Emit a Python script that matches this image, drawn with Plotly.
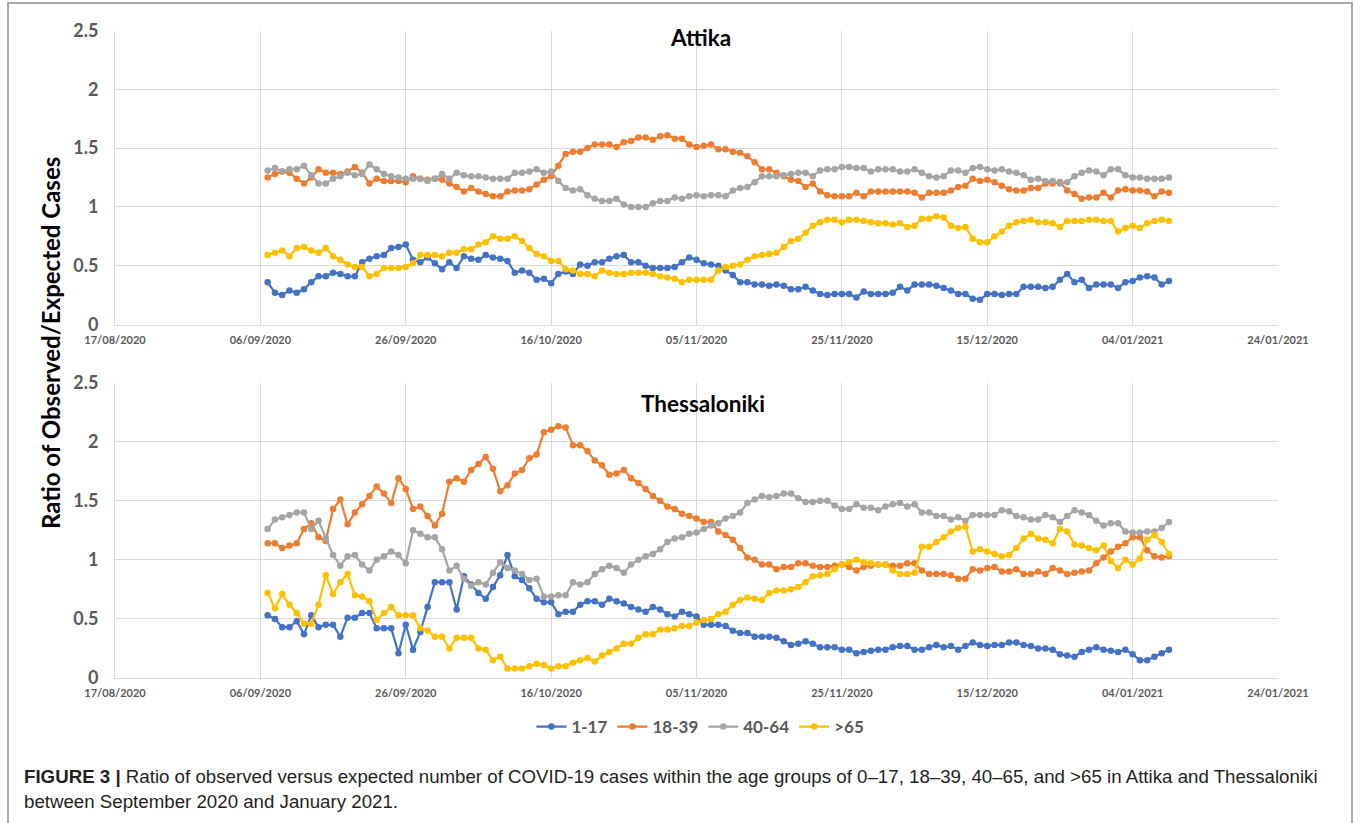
import pandas as pd
import plotly.graph_objects as go

# --- data: daily ratio observed/expected, 07/09/2020 .. 09/01/2021 ---
dates = pd.date_range("2020-09-07", "2021-01-09", freq="D")
age_groups = ["1-17", "18-39", "40-64", ">65"]

attika_1_17 = [
    0.36, 0.27, 0.25, 0.29, 0.27, 0.30, 0.36, 0.41, 0.41, 0.44, 0.43, 0.41, 0.41, 0.53, 0.56, 0.58,
    0.59, 0.65, 0.66, 0.68, 0.55, 0.53, 0.57, 0.52, 0.47, 0.53, 0.48, 0.58, 0.56, 0.55, 0.59,
    0.57, 0.56, 0.54, 0.44, 0.46, 0.44, 0.38, 0.39, 0.35, 0.43, 0.45, 0.43, 0.51, 0.50, 0.53, 0.53,
    0.56, 0.58, 0.59, 0.53, 0.53, 0.50, 0.48, 0.48, 0.48, 0.49, 0.53, 0.57, 0.55, 0.52, 0.51,
    0.50, 0.46, 0.42, 0.36, 0.36, 0.34, 0.34, 0.33, 0.34, 0.33, 0.30, 0.30, 0.32, 0.29, 0.26, 0.25,
    0.26, 0.26, 0.26, 0.23, 0.28, 0.26, 0.26, 0.26, 0.27, 0.32, 0.29, 0.34, 0.34, 0.34, 0.33,
    0.31, 0.29, 0.26, 0.26, 0.22, 0.21, 0.26, 0.26, 0.25, 0.26, 0.26, 0.32, 0.32, 0.32, 0.31, 0.32,
    0.38, 0.43, 0.36, 0.38, 0.31, 0.34, 0.34, 0.34, 0.31, 0.36, 0.37, 0.40, 0.41, 0.40, 0.34, 0.37,
]
attika_18_39 = [
    1.25, 1.28, 1.30, 1.29, 1.24, 1.20, 1.25, 1.32, 1.29, 1.29, 1.28, 1.30, 1.34, 1.29, 1.20, 1.24,
    1.22, 1.22, 1.22, 1.21, 1.26, 1.24, 1.23, 1.24, 1.23, 1.20, 1.17, 1.13, 1.16, 1.13, 1.11,
    1.09, 1.09, 1.13, 1.14, 1.14, 1.15, 1.19, 1.23, 1.26, 1.35, 1.45, 1.47, 1.47, 1.50, 1.53, 1.53,
    1.53, 1.51, 1.55, 1.56, 1.59, 1.59, 1.57, 1.60, 1.61, 1.58, 1.58, 1.53, 1.51, 1.52, 1.53,
    1.49, 1.49, 1.47, 1.46, 1.43, 1.38, 1.32, 1.32, 1.29, 1.26, 1.23, 1.22, 1.17, 1.20, 1.13, 1.10,
    1.09, 1.09, 1.09, 1.12, 1.09, 1.13, 1.13, 1.13, 1.13, 1.13, 1.13, 1.12, 1.08, 1.12, 1.12,
    1.12, 1.14, 1.17, 1.18, 1.24, 1.22, 1.23, 1.21, 1.18, 1.15, 1.14, 1.14, 1.16, 1.16, 1.20, 1.20,
    1.21, 1.14, 1.11, 1.07, 1.08, 1.08, 1.12, 1.08, 1.14, 1.15, 1.14, 1.14, 1.13, 1.09, 1.13, 1.12,
]
attika_40_64 = [
    1.31, 1.33, 1.30, 1.32, 1.32, 1.35, 1.27, 1.20, 1.20, 1.24, 1.26, 1.29, 1.27, 1.28, 1.36, 1.32,
    1.28, 1.26, 1.25, 1.24, 1.24, 1.24, 1.22, 1.24, 1.28, 1.24, 1.29, 1.27, 1.26, 1.26, 1.25,
    1.24, 1.24, 1.24, 1.29, 1.29, 1.30, 1.32, 1.29, 1.30, 1.22, 1.16, 1.14, 1.15, 1.10, 1.07, 1.05,
    1.05, 1.07, 1.02, 1.00, 1.00, 1.00, 1.03, 1.05, 1.05, 1.08, 1.07, 1.09, 1.10, 1.09, 1.10,
    1.10, 1.09, 1.14, 1.16, 1.17, 1.21, 1.26, 1.26, 1.26, 1.27, 1.28, 1.29, 1.29, 1.26, 1.31, 1.32,
    1.32, 1.34, 1.34, 1.33, 1.33, 1.30, 1.32, 1.32, 1.32, 1.30, 1.30, 1.32, 1.29, 1.26, 1.25,
    1.26, 1.31, 1.31, 1.29, 1.33, 1.34, 1.32, 1.31, 1.32, 1.30, 1.29, 1.27, 1.23, 1.24, 1.22, 1.22,
    1.20, 1.21, 1.26, 1.29, 1.31, 1.30, 1.27, 1.32, 1.32, 1.27, 1.25, 1.25, 1.24, 1.24, 1.24, 1.25,
]
attika_65 = [
    0.59, 0.61, 0.63, 0.58, 0.65, 0.66, 0.63, 0.61, 0.65, 0.58, 0.55, 0.51, 0.49, 0.49, 0.41, 0.43,
    0.48, 0.48, 0.48, 0.49, 0.52, 0.59, 0.59, 0.59, 0.58, 0.61, 0.61, 0.64, 0.64, 0.68, 0.70,
    0.75, 0.73, 0.73, 0.75, 0.71, 0.65, 0.60, 0.58, 0.54, 0.54, 0.47, 0.46, 0.43, 0.43, 0.41, 0.46,
    0.44, 0.43, 0.43, 0.44, 0.44, 0.44, 0.43, 0.41, 0.40, 0.39, 0.36, 0.38, 0.38, 0.38, 0.38,
    0.46, 0.49, 0.50, 0.51, 0.55, 0.58, 0.59, 0.60, 0.61, 0.66, 0.71, 0.73, 0.78, 0.84, 0.87, 0.89,
    0.89, 0.87, 0.89, 0.89, 0.88, 0.87, 0.86, 0.86, 0.85, 0.86, 0.83, 0.84, 0.90, 0.90, 0.92,
    0.91, 0.84, 0.82, 0.83, 0.73, 0.70, 0.70, 0.75, 0.79, 0.84, 0.87, 0.88, 0.89, 0.87, 0.87, 0.86,
    0.83, 0.88, 0.88, 0.88, 0.89, 0.89, 0.88, 0.88, 0.79, 0.82, 0.84, 0.82, 0.86, 0.88, 0.89, 0.88,
]

thess_1_17 = [
    0.53, 0.50, 0.43, 0.43, 0.48, 0.37, 0.53, 0.43, 0.45, 0.45, 0.35, 0.51, 0.51, 0.55, 0.55, 0.42,
    0.42, 0.42, 0.21, 0.45, 0.24, 0.39, 0.60, 0.81, 0.81, 0.81, 0.58, 0.86, 0.79, 0.72, 0.67,
    0.77, 0.87, 1.04, 0.86, 0.83, 0.76, 0.67, 0.64, 0.64, 0.54, 0.56, 0.56, 0.62, 0.65, 0.65, 0.62,
    0.67, 0.65, 0.63, 0.60, 0.58, 0.56, 0.60, 0.58, 0.54, 0.52, 0.56, 0.54, 0.52, 0.45, 0.45,
    0.45, 0.44, 0.40, 0.38, 0.38, 0.35, 0.35, 0.35, 0.34, 0.31, 0.28, 0.29, 0.31, 0.29, 0.26, 0.26,
    0.26, 0.24, 0.24, 0.21, 0.22, 0.23, 0.24, 0.24, 0.26, 0.27, 0.27, 0.24, 0.24, 0.26, 0.28,
    0.26, 0.27, 0.24, 0.27, 0.30, 0.28, 0.27, 0.28, 0.28, 0.30, 0.30, 0.28, 0.27, 0.25, 0.25, 0.24,
    0.20, 0.19, 0.18, 0.22, 0.24, 0.26, 0.24, 0.23, 0.22, 0.24, 0.20, 0.15, 0.15, 0.18, 0.21, 0.24,
]
thess_18_39 = [
    1.14, 1.14, 1.10, 1.12, 1.14, 1.26, 1.31, 1.19, 1.16, 1.43, 1.51, 1.30, 1.40, 1.47, 1.54, 1.62,
    1.56, 1.48, 1.69, 1.60, 1.43, 1.45, 1.37, 1.29, 1.39, 1.66, 1.69, 1.66, 1.76, 1.81, 1.87,
    1.77, 1.58, 1.63, 1.73, 1.76, 1.86, 1.89, 2.08, 2.10, 2.13, 2.12, 1.97, 1.97, 1.92, 1.84, 1.80,
    1.72, 1.73, 1.76, 1.69, 1.65, 1.60, 1.54, 1.50, 1.45, 1.43, 1.39, 1.37, 1.35, 1.32, 1.32,
    1.24, 1.21, 1.17, 1.10, 1.02, 1.00, 0.96, 0.96, 0.92, 0.94, 0.94, 0.97, 0.97, 0.95, 0.94, 0.94,
    0.95, 0.96, 0.94, 0.91, 0.94, 0.95, 0.96, 0.96, 0.95, 0.95, 0.97, 0.97, 0.91, 0.88, 0.88,
    0.88, 0.87, 0.84, 0.84, 0.92, 0.91, 0.93, 0.94, 0.90, 0.90, 0.92, 0.88, 0.88, 0.90, 0.88, 0.93,
    0.91, 0.88, 0.89, 0.90, 0.91, 0.97, 1.02, 1.07, 1.11, 1.14, 1.19, 1.19, 1.08, 1.03, 1.02, 1.03,
]
thess_40_64 = [
    1.26, 1.34, 1.36, 1.38, 1.40, 1.40, 1.26, 1.33, 1.18, 1.04, 0.95, 1.03, 1.04, 0.96, 0.91, 1.00,
    1.03, 1.07, 1.04, 0.97, 1.25, 1.22, 1.19, 1.19, 1.09, 0.91, 0.95, 0.84, 0.78, 0.81, 0.79,
    0.89, 0.98, 0.93, 0.91, 0.88, 0.83, 0.84, 0.69, 0.69, 0.70, 0.70, 0.81, 0.79, 0.81, 0.88, 0.92,
    0.95, 0.93, 0.89, 0.96, 1.00, 1.03, 1.05, 1.09, 1.15, 1.18, 1.19, 1.22, 1.23, 1.26, 1.29,
    1.31, 1.35, 1.37, 1.40, 1.48, 1.51, 1.54, 1.53, 1.54, 1.56, 1.56, 1.52, 1.49, 1.49, 1.50, 1.50,
    1.46, 1.43, 1.43, 1.47, 1.44, 1.44, 1.42, 1.45, 1.47, 1.48, 1.45, 1.47, 1.40, 1.40, 1.37,
    1.37, 1.34, 1.36, 1.33, 1.38, 1.38, 1.38, 1.38, 1.42, 1.41, 1.37, 1.36, 1.34, 1.34, 1.38, 1.36,
    1.32, 1.37, 1.42, 1.40, 1.38, 1.33, 1.29, 1.31, 1.31, 1.24, 1.23, 1.23, 1.24, 1.24, 1.27, 1.32,
]
thess_65 = [
    0.72, 0.59, 0.71, 0.62, 0.55, 0.46, 0.46, 0.62, 0.87, 0.71, 0.81, 0.88, 0.70, 0.69, 0.65, 0.49,
    0.55, 0.60, 0.53, 0.53, 0.53, 0.42, 0.40, 0.35, 0.35, 0.25, 0.34, 0.34, 0.34, 0.25, 0.24,
    0.15, 0.18, 0.08, 0.08, 0.08, 0.10, 0.12, 0.11, 0.08, 0.10, 0.10, 0.13, 0.15, 0.17, 0.14, 0.19,
    0.22, 0.25, 0.29, 0.29, 0.34, 0.37, 0.37, 0.41, 0.41, 0.42, 0.44, 0.44, 0.47, 0.49, 0.50,
    0.54, 0.56, 0.62, 0.66, 0.68, 0.67, 0.66, 0.72, 0.74, 0.74, 0.75, 0.77, 0.81, 0.86, 0.87, 0.88,
    0.92, 0.96, 0.98, 1.00, 0.98, 0.97, 0.96, 0.96, 0.91, 0.88, 0.88, 0.89, 1.11, 1.11, 1.15,
    1.19, 1.24, 1.27, 1.28, 1.07, 1.09, 1.07, 1.05, 1.03, 1.04, 1.10, 1.18, 1.22, 1.18, 1.17, 1.14,
    1.26, 1.24, 1.13, 1.12, 1.10, 1.08, 1.12, 0.99, 0.93, 1.00, 0.96, 1.01, 1.17, 1.21, 1.15, 1.05,
]

tick_dates = pd.date_range("2020-08-17", "2021-01-24", freq="20D")
colors = ["#4472C4", "#ED7D31", "#A5A5A5", "#FFC000"]

W, H = 1360, 823
GRID = "#D9D9D9"
TICK_GRAY = "#595959"


def px_x(x):
    return x / W


def px_y(y):
    return 1 - y / H


fig = go.Figure()

panels = [
    ("x", "y", [attika_1_17, attika_18_39, attika_40_64, attika_65], True),
    ("x2", "y2", [thess_1_17, thess_18_39, thess_40_64, thess_65], False),
]
for xa, ya, series, show in panels:
    for name, vals, col in zip(age_groups, series, colors):
        fig.add_trace(go.Scatter(
            x=dates, y=vals, xaxis=xa, yaxis=ya,
            mode="lines+markers", name=name, showlegend=show,
            line=dict(color=col, width=2.2),
            marker=dict(color=col, size=6.5),
        ))

xaxis_common = dict(
    range=[tick_dates[0], tick_dates[-1]],
    tickvals=list(tick_dates), tickformat="%d/%m/%Y",
    showgrid=True, gridcolor=GRID, gridwidth=1,
    showline=True, linecolor=GRID, linewidth=1,
    zeroline=False, ticks="", automargin=False, ticklabelstandoff=5,
    tickfont=dict(family="Lato", size=11, color=TICK_GRAY, weight="bold"),
    domain=[px_x(115), px_x(1278)],
)
yaxis_common = dict(
    range=[0, 2.5], dtick=0.5,
    showgrid=True, gridcolor=GRID, gridwidth=1,
    showline=True, linecolor=GRID, linewidth=1,
    zeroline=False, ticks="", ticklabelstandoff=12, automargin=False,
    tickfont=dict(family="Lato", size=18, color=TICK_GRAY, weight="bold"),
)

fig.update_layout(
    template="none",
    width=W, height=H,
    margin=dict(l=0, r=0, t=0, b=0, autoexpand=False),
    paper_bgcolor="white", plot_bgcolor="white",
    xaxis=dict(xaxis_common, anchor="y"),
    xaxis2=dict(xaxis_common, anchor="y2"),
    yaxis=dict(yaxis_common, anchor="x", domain=[px_y(324.5), px_y(30.5)]),
    yaxis2=dict(yaxis_common, anchor="x2", domain=[px_y(678), px_y(382.5)]),
    legend=dict(
        orientation="h", x=0.515, xanchor="center", y=px_y(727), yanchor="middle",
        font=dict(family="Lato", size=17, color=TICK_GRAY, weight="bold"),
        bgcolor="rgba(0,0,0,0)",
    ),
    showlegend=True,
)

# panel titles and shared y title
title_font = dict(family="Lato", size=22.5, color="black", weight="bold")
fig.add_annotation(text="Attika", x=px_x(701), y=px_y(38), xref="paper", yref="paper",
                   xanchor="center", yanchor="middle", showarrow=False, font=title_font)
fig.add_annotation(text="Thessaloniki", x=px_x(703), y=px_y(403), xref="paper", yref="paper",
                   xanchor="center", yanchor="middle", showarrow=False, font=title_font)
fig.add_annotation(text="Ratio of Observed/Expected Cases", x=px_x(50), y=px_y(343),
                   xref="paper", yref="paper", xanchor="center", yanchor="middle",
                   showarrow=False, textangle=-90,
                   font=dict(family="Lato", size=24, color="black", weight="bold"))

# caption
cap_font = dict(family="Liberation Sans", size=18.7, color="#231F20")
fig.add_annotation(
    text="<b>FIGURE 3 |</b> Ratio of observed versus expected number of COVID-19 cases within the age "
         "groups of 0–17, 18–39, 40–65, and >65 in Attika and Thessaloniki",
    x=px_x(22), y=px_y(776), xref="paper", yref="paper", xanchor="left", yanchor="middle",
    showarrow=False, font=cap_font)
fig.add_annotation(
    text="between September 2020 and January 2021.",
    x=px_x(22), y=px_y(801), xref="paper", yref="paper", xanchor="left", yanchor="middle",
    showarrow=False, font=cap_font)

# frame around the figure
fig.add_shape(type="rect", xref="paper", yref="paper",
              x0=px_x(8), x1=px_x(1352), y0=px_y(830), y1=px_y(3),
              line=dict(color="#8C8C8C", width=1.5), fillcolor="rgba(0,0,0,0)")

fig.write_html("out.html", config={"displayModeBar": False},
               post_script="document.body.style.margin='0';")
